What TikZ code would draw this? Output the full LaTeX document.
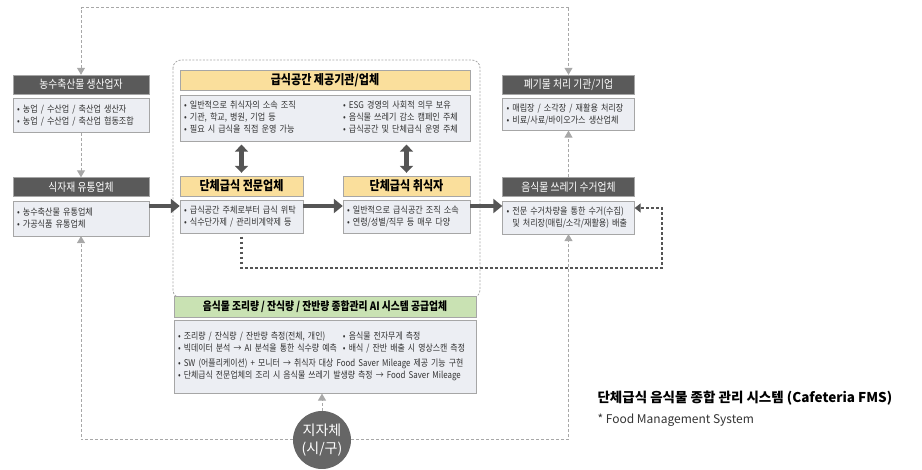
\documentclass[tikz,border=0pt]{standalone}
\usepackage{fontspec}
\setmainfont{Noto Sans CJK KR}
\newfontfamily\narrowfont{Noto Sans CJK KR}[FakeStretch=0.85]
\newfontfamily\infofont{Noto Sans CJK KR}[FakeStretch=0.88]
\usetikzlibrary{arrows.meta, positioning}
\definecolor{darkfill}{HTML}{5A5A5A}
\definecolor{infofill}{HTML}{ECEEF3}
\definecolor{boxline}{HTML}{A6A6A6}
\definecolor{yellowfill}{HTML}{FADF9C}
\definecolor{greenfill}{HTML}{C9E2B3}
\definecolor{arrowgray}{HTML}{555555}
\definecolor{linkgray}{HTML}{A8A8A8}
\definecolor{textgray}{HTML}{333333}
\definecolor{cityfill}{HTML}{666666}
\tikzset{
  head/.style={rectangle,draw=boxline,minimum height=19pt,inner sep=1pt},
  darkhead/.style={head,fill=darkfill,text=white,font=\narrowfont\fontsize{11.5}{13}\selectfont},
  yellowhead/.style={head,fill=yellowfill,font=\narrowfont\bfseries\fontsize{13}{15}\selectfont},
  greenhead/.style={head,fill=greenfill,font=\narrowfont\bfseries\fontsize{11.5}{13}\selectfont},
  info/.style={rectangle,draw=boxline,fill=infofill,align=left,text=textgray,inner xsep=4pt,inner ysep=3pt,font=\infofont\fontsize{9.2}{12}\selectfont},
  bigarrow/.style={draw=arrowgray,line width=4.5pt,-{Triangle[length=9pt,width=14pt]}},
  dualarrow/.style={draw=arrowgray,line width=4.5pt,{Triangle[length=7pt,width=13pt]}-{Triangle[length=7pt,width=13pt]},shorten <=3pt,shorten >=3pt},
  link/.style={draw=linkgray,line width=1pt,dash pattern=on 3pt off 2pt,-{Triangle[length=7pt,width=8pt]}},
  dotlink/.style={draw=arrowgray,line width=2.5pt,dash pattern=on 2.5pt off 2.5pt,-{Triangle[length=6pt,width=9pt]}},
  group/.style={draw=linkgray,line width=0.8pt,dash pattern=on 2pt off 1.5pt,rounded corners=8pt},
  city/.style={circle,fill=cityfill,text=white,minimum size=58pt,inner sep=0pt,align=center,font=\fontsize{14}{18}\selectfont}
}

\begin{document}
\begin{tikzpicture}[x=1pt,y=-1pt]
\useasboundingbox (0,0) rectangle (922,470);
\draw[group] (173,60) rectangle (480,298);

% left column
\node[darkhead, minimum width=136pt] (prod) at (81,84.5) {농수축산물 생산업자};
\node[info, text width=128pt, minimum height=34pt, below=4pt of prod] (prodinfo)
  {• 농업 / 수산업 / 축산업 생산자\\• 농업 / 수산업 / 축산업 협동조합};
\node[darkhead, minimum width=136pt] (dist) at (81,187) {식자재 유통업체};
\node[info, text width=128pt, minimum height=35pt, below=4pt of dist] (distinfo)
  {• 농수축산물 유통업체\\• 가공식품 유통업체};

% middle
\node[yellowhead, minimum width=290pt, minimum height=20pt] (sup) at (325,80) {급식공간 제공기관/업체};
\node[info, text width=282pt, minimum height=46pt, below=5pt of sup] (supinfo)
  {\begin{tabular}{@{}p{159pt}@{}l@{}}
   • 일반적으로 취식자의 소속 조직 & • ESG 경영의 사회적 의무 보유\\
   • 기관, 학교, 병원, 기업 등 & • 음식물 쓰레기 감소 캠페인 주체\\
   • 필요 시 급식을 직접 운영 가능 & • 급식공간 및 단체급식 운영 주체
   \end{tabular}};
\node[yellowhead, minimum width=123pt, minimum height=20pt] (cater) at (241.5,186) {단체급식 전문업체};
\node[info, text width=115pt, minimum height=33pt, below=4pt of cater] (caterinfo)
  {• 급식공간 주체로부터 급식 위탁\\• 식수단가제 / 관리비계약제 등};
\node[yellowhead, minimum width=127pt, minimum height=20pt] (diner) at (406.5,186) {단체급식 취식자};
\node[info, text width=119pt, minimum height=33pt, below=4pt of diner] (dinerinfo)
  {• 일반적으로 급식공간 조직 소속\\• 연령/성별/직무 등 매우 다양};

% right column
\node[darkhead, minimum width=132pt] (waste) at (568.5,84.5) {폐기물 처리 기관/기업};
\node[info, text width=124pt, minimum height=32pt, below=4pt of waste] (wasteinfo)
  {• 매립장 / 소각장 / 재활용 처리장\\• 비료/사료/바이오가스 생산업체};
\node[darkhead, minimum width=132pt] (coll) at (568.5,187) {음식물 쓰레기 수거업체};
\node[info, text width=124pt, minimum height=33pt, below=4pt of coll] (collinfo)
  {• 전문 수거차량을 통한 수거(수집)\\\phantom{• }및 처리장(매립/소각/재활용) 배출};

% AI supplier
\node[greenhead, minimum width=302pt, minimum height=21pt] (ai) at (325,306.5)
  {음식물 조리량 / 잔식량 / 잔반량 종합관리 AI 시스템 공급업체};
\node[info, text width=294pt, minimum height=73pt, below=3pt of ai,
      font=\narrowfont\fontsize{9.3}{12}\selectfont] (aiinfo)
  {\begin{tabular}{@{}p{165pt}@{}l@{}}
   • 조리량 / 잔식량 / 잔반량 측정(전체, 개인) & • 음식물 전자무게 측정\\
   • 빅데이터 분석 → AI 분석을 통한 식수량 예측 & • 배식 / 잔반 배출 시 영상스캔 측정\\[3pt]
   \multicolumn{2}{@{}l@{}}{• SW (어플리케이션) + 모니터 → 취식자 대상 Food Saver Mileage 제공 기능 구현}\\
   \multicolumn{2}{@{}l@{}}{• 단체급식 전문업체의 조리 시 음식물 쓰레기 발생량 측정 → Food Saver Mileage}
   \end{tabular}};

\node[city] (city) at (322,440) {지자체\\(시/구)};

% legend
\node[anchor=west, font=\bfseries\fontsize{13.5}{16}\selectfont] (title) at (594,398)
  {단체급식 음식물 종합 관리 시스템 (Cafeteria FMS)};
\node[anchor=west, text=textgray, font=\fontsize{12}{14}\selectfont] (note) at (594,420)
  {* Food Management System};

% connectors
\coordinate (topL) at (81,8);
\coordinate (topR) at (568.5,8);
\coordinate (flow) at (0,206);
\coordinate (loop) at (662,268);
\coordinate (back) at (0,208);
\draw[link] (topR) -- (topL) -- (prod);
\draw[link] (topR) -- (waste);
\draw[link] (prodinfo) -- (dist);
\draw[link] (coll) -- (wasteinfo);
\draw[link] (city.west) -| (distinfo.south);
\draw[link] (city.east) -| (collinfo.south);
\draw[link] (city.north) -- (city.north |- aiinfo.south);
\draw[bigarrow] (distinfo.east |- flow) -- (caterinfo.west |- flow);
\draw[bigarrow] (caterinfo.east |- flow) -- (dinerinfo.west |- flow);
\draw[bigarrow] (dinerinfo.east |- flow) -- (collinfo.west |- flow);
\draw[dualarrow] (cater.north |- supinfo.south) -- (cater);
\draw[dualarrow] (diner.north |- supinfo.south) -- (diner);
\draw[dotlink, shorten <=3pt] (caterinfo.south) |- (loop) |- (collinfo.east |- back);
\end{tikzpicture}
\end{document}
